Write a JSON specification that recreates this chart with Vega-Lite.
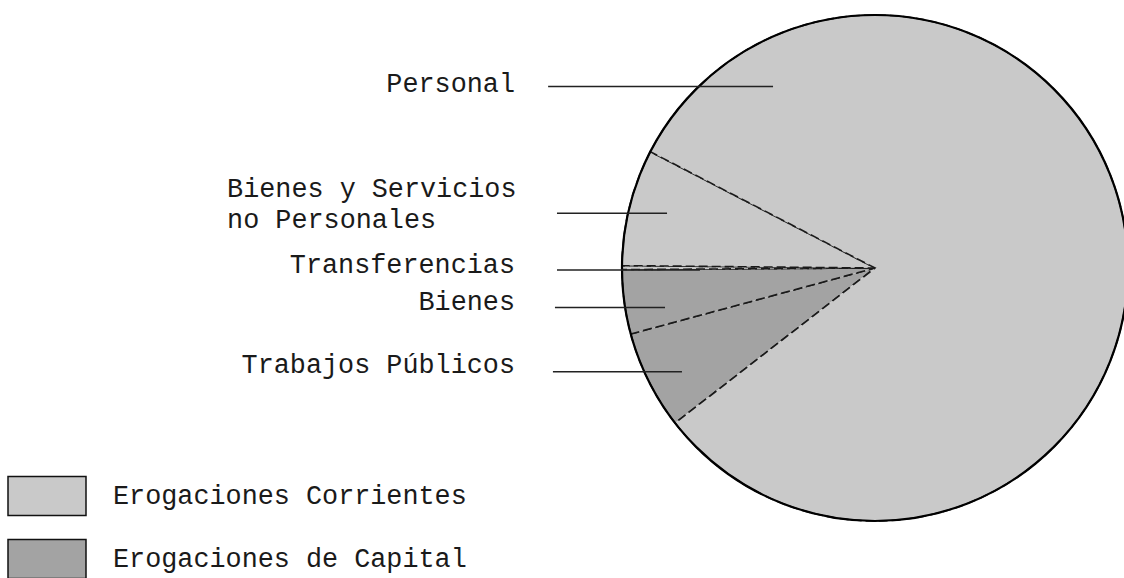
{
  "$schema": "https://vega.github.io/schema/vega-lite/v6.json",
  "width": 1124,
  "height": 578,
  "autosize": "none",
  "padding": 0,
  "background": "white",
  "config": {"view": {"stroke": null}},
  "datasets": {
    "rubros": [
      {"rubro": "Trabajos Públicos", "tipo": "Erogaciones de Capital", "pct": 6.3, "ord": 1},
      {"rubro": "Bienes", "tipo": "Erogaciones de Capital", "pct": 4.1, "ord": 2},
      {"rubro": "Transferencias", "tipo": "Erogaciones Corrientes", "pct": 0.25, "ord": 3},
      {"rubro": "Bienes y Servicios no Personales", "tipo": "Erogaciones Corrientes", "pct": 7.45, "ord": 4},
      {"rubro": "Personal", "tipo": "Erogaciones Corrientes", "pct": 81.9, "ord": 5}
    ],
    "rotulos": [
      {"label": "Personal", "tx": -142.3, "ty": 69.6, "ly": 71.7, "lx1": -129.2, "lx2": -40.3},
      {"label": "Bienes y Servicios\nno Personales", "tx": -256.1, "ty": 27.9, "ly": 21.6, "lx1": -125.7, "lx2": -82.2},
      {"label": "Transferencias", "tx": -142.3, "ty": -1.9, "ly": -0.8, "lx1": -125.7, "lx2": -69.2},
      {"label": "Bienes", "tx": -142.3, "ty": -16.6, "ly": -15.6, "lx1": -126.5, "lx2": -83.0},
      {"label": "Trabajos Públicos", "tx": -142.3, "ty": -41.6, "ly": -41.0, "lx1": -127.3, "lx2": -76.3}
    ]
  },
  "layer": [
    {
      "data": {"name": "rubros"},
      "mark": {"type": "arc", "radius": 253, "stroke": "#1a1a1a", "strokeWidth": 1.6, "strokeDash": [9, 4]},
      "encoding": {
        "x": {"datum": 0, "type": "quantitative", "scale": {"domain": [-345.85, 98.42], "nice": false, "zero": false}, "axis": null},
        "y": {"datum": 0, "type": "quantitative", "scale": {"domain": [-122.53, 105.93], "nice": false, "zero": false}, "axis": null},
        "theta": {"field": "pct", "type": "quantitative", "stack": true, "scale": {"range": [4.0527, 10.3359]}},
        "order": {"field": "ord", "type": "quantitative", "sort": "ascending"},
        "color": {
          "field": "tipo",
          "type": "nominal",
          "scale": {"domain": ["Erogaciones Corrientes", "Erogaciones de Capital"], "range": ["#c9c9c9", "#a3a3a3"]},
          "legend": {
            "orient": "none",
            "legendX": 7,
            "legendY": 456,
            "title": null,
            "padding": 0,
            "symbolType": "M-1,-0.5H1V0.5H-1Z",
            "symbolSize": 6084,
            "symbolStrokeColor": "#111",
            "symbolStrokeWidth": 1.5,
            "symbolOpacity": 1,
            "labelFont": "Liberation Mono",
            "labelFontSize": 26.8,
            "labelColor": "#1a1a1a",
            "labelOffset": 26,
            "labelLimit": 0,
            "rowPadding": -13
          }
        }
      }
    },
    {
      "data": {"values": [{}]},
      "mark": {"type": "arc", "radius": 253, "theta": 0, "theta2": 6.2832, "filled": false, "stroke": "#000", "strokeWidth": 2.2},
      "encoding": {
        "x": {"datum": 0, "type": "quantitative", "scale": {"domain": [-345.85, 98.42], "nice": false, "zero": false}, "axis": null},
        "y": {"datum": 0, "type": "quantitative", "scale": {"domain": [-122.53, 105.93], "nice": false, "zero": false}, "axis": null}
      }
    },
    {
      "data": {"name": "rotulos"},
      "mark": {"type": "rule", "stroke": "#222", "strokeWidth": 1.5},
      "encoding": {
        "x": {"field": "lx1", "type": "quantitative", "scale": {"domain": [-345.85, 98.42], "nice": false, "zero": false}, "axis": null},
        "x2": {"field": "lx2"},
        "y": {"field": "ly", "type": "quantitative", "scale": {"domain": [-122.53, 105.93], "nice": false, "zero": false}, "axis": null}
      }
    },
    {
      "data": {"name": "rotulos"},
      "transform": [{"filter": "indexof(datum.label, '\\n') < 0"}],
      "mark": {"type": "text", "align": "right", "baseline": "alphabetic", "font": "Liberation Mono", "fontSize": 26.8, "color": "#1a1a1a"},
      "encoding": {
        "x": {"field": "tx", "type": "quantitative", "scale": {"domain": [-345.85, 98.42], "nice": false, "zero": false}, "axis": null},
        "y": {"field": "ty", "type": "quantitative", "scale": {"domain": [-122.53, 105.93], "nice": false, "zero": false}, "axis": null},
        "text": {"field": "label", "type": "nominal"}
      }
    },
    {
      "data": {"name": "rotulos"},
      "transform": [{"filter": "indexof(datum.label, '\\n') >= 0"}],
      "mark": {"type": "text", "align": "left", "baseline": "alphabetic", "font": "Liberation Mono", "fontSize": 26.8, "color": "#1a1a1a", "lineBreak": "\n", "lineHeight": 31},
      "encoding": {
        "x": {"field": "tx", "type": "quantitative", "scale": {"domain": [-345.85, 98.42], "nice": false, "zero": false}, "axis": null},
        "y": {"field": "ty", "type": "quantitative", "scale": {"domain": [-122.53, 105.93], "nice": false, "zero": false}, "axis": null},
        "text": {"field": "label", "type": "nominal"}
      }
    }
  ]
}
